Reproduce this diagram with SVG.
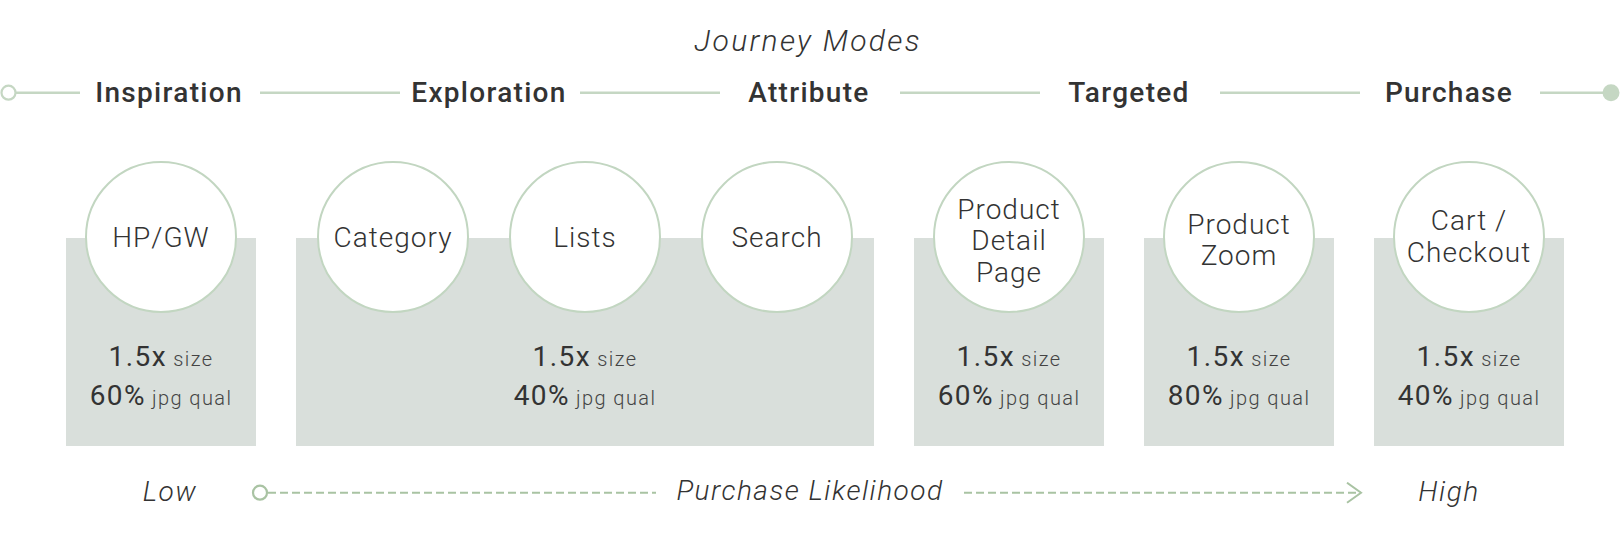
<svg xmlns="http://www.w3.org/2000/svg" width="1620" height="534" viewBox="0 0 1620 534">
<defs>
<style>
text{font-family:Roboto,"Liberation Sans",sans-serif;fill:#333;text-anchor:middle}
.title{font-size:30px;font-style:italic;font-weight:300;letter-spacing:2.3px}
.hd{font-size:28px;font-weight:500;letter-spacing:1.3px}
.box{fill:#d9dfdb}
.circ{fill:#fff;stroke:#c2d6c1;stroke-width:2}
.lbl{font-size:28px;font-weight:300;letter-spacing:1px}
.big{font-size:28px;font-weight:400;letter-spacing:1.4px}
.sm{font-size:20px;font-weight:300;letter-spacing:1.4px;fill:#444}
.it{font-size:28px;font-style:italic;font-weight:300;letter-spacing:1.5px}
.tl{stroke:#c5d7c3;stroke-width:2.5;fill:none}
.dash{stroke:#a9c3a3;stroke-width:2;stroke-dasharray:8 4;fill:none}
</style>
<marker id="chev" markerUnits="userSpaceOnUse" markerWidth="18" markerHeight="24" refX="15" refY="11" orient="auto">
<path d="M1,1 L15,11 L1,21" fill="none" stroke="#a9c3a3" stroke-width="2"/>
</marker>
</defs>
<rect width="1620" height="534" fill="#fff"/>
<text class="title" x="808" y="51">Journey Modes</text>
<g id="connectors">
<g id="timeline">
<line class="tl" x1="15" y1="92.7" x2="80" y2="92.7"/>
<line class="tl" x1="260" y1="92.7" x2="400" y2="92.7"/>
<line class="tl" x1="580" y1="92.7" x2="720" y2="92.7"/>
<line class="tl" x1="900" y1="92.7" x2="1040" y2="92.7"/>
<line class="tl" x1="1220" y1="92.7" x2="1360" y2="92.7"/>
<line class="tl" x1="1540" y1="92.7" x2="1605" y2="92.7"/>
<circle cx="8.5" cy="92.7" r="7" fill="#fff" stroke="#c5d7c3" stroke-width="2.2"/>
<circle cx="1611" cy="92.7" r="8.5" fill="#c5d7c3"/>
</g>
<g id="likelihood-arrow">
<line class="dash" x1="268" y1="492.7" x2="656" y2="492.7"/>
<line class="dash" x1="964" y1="492.7" x2="1361" y2="492.7" marker-end="url(#chev)"/>
<circle cx="260" cy="492.7" r="7" fill="#fff" stroke="#a9c3a3" stroke-width="2.2"/>
</g>
</g>
<g id="modes">
<text class="hd" x="169" y="102">Inspiration</text>
<text class="hd" x="489" y="102">Exploration</text>
<text class="hd" x="809" y="102">Attribute</text>
<text class="hd" x="1129" y="102">Targeted</text>
<text class="hd" x="1449" y="102">Purchase</text>
</g>
<g id="node-hpgw">
<rect class="box" x="66" y="238" width="190" height="208"/>
<circle class="circ" cx="161" cy="237" r="75"/>
<text class="lbl" x="161" y="247">HP/GW</text>
<text x="161" y="366"><tspan class="big">1.5x</tspan><tspan class="sm"> size</tspan></text>
<text x="161" y="405"><tspan class="big">60%</tspan><tspan class="sm"> jpg qual</tspan></text>
</g>
<g id="node-exploration">
<rect class="box" x="296" y="238" width="578" height="208"/>
<text x="585" y="366"><tspan class="big">1.5x</tspan><tspan class="sm"> size</tspan></text>
<text x="585" y="405"><tspan class="big">40%</tspan><tspan class="sm"> jpg qual</tspan></text>
</g>
<g id="node-category">
<circle class="circ" cx="393" cy="237" r="75"/>
<text class="lbl" x="393" y="247">Category</text>
</g>
<g id="node-lists">
<circle class="circ" cx="585" cy="237" r="75"/>
<text class="lbl" x="585" y="247">Lists</text>
</g>
<g id="node-search">
<circle class="circ" cx="777" cy="237" r="75"/>
<text class="lbl" x="777" y="247">Search</text>
</g>
<g id="node-pdp">
<rect class="box" x="914" y="238" width="190" height="208"/>
<circle class="circ" cx="1009" cy="237" r="75"/>
<text class="lbl" x="1009" y="218.5">Product</text>
<text class="lbl" x="1009" y="250">Detail</text>
<text class="lbl" x="1009" y="281.5">Page</text>
<text x="1009" y="366"><tspan class="big">1.5x</tspan><tspan class="sm"> size</tspan></text>
<text x="1009" y="405"><tspan class="big">60%</tspan><tspan class="sm"> jpg qual</tspan></text>
</g>
<g id="node-zoom">
<rect class="box" x="1144" y="238" width="190" height="208"/>
<circle class="circ" cx="1239" cy="237" r="75"/>
<text class="lbl" x="1239" y="233.5">Product</text>
<text class="lbl" x="1239" y="265">Zoom</text>
<text x="1239" y="366"><tspan class="big">1.5x</tspan><tspan class="sm"> size</tspan></text>
<text x="1239" y="405"><tspan class="big">80%</tspan><tspan class="sm"> jpg qual</tspan></text>
</g>
<g id="node-cart">
<rect class="box" x="1374" y="238" width="190" height="208"/>
<circle class="circ" cx="1469" cy="237" r="75"/>
<text class="lbl" x="1469" y="230">Cart /</text>
<text class="lbl" x="1469" y="261.5">Checkout</text>
<text x="1469" y="366"><tspan class="big">1.5x</tspan><tspan class="sm"> size</tspan></text>
<text x="1469" y="405"><tspan class="big">40%</tspan><tspan class="sm"> jpg qual</tspan></text>
</g>
<g id="likelihood-labels">
<text class="it" x="170" y="500.5">Low</text>
<text class="it" x="810" y="500">Purchase Likelihood</text>
<text class="it" x="1449" y="500.5">High</text>
</g>
</svg>
